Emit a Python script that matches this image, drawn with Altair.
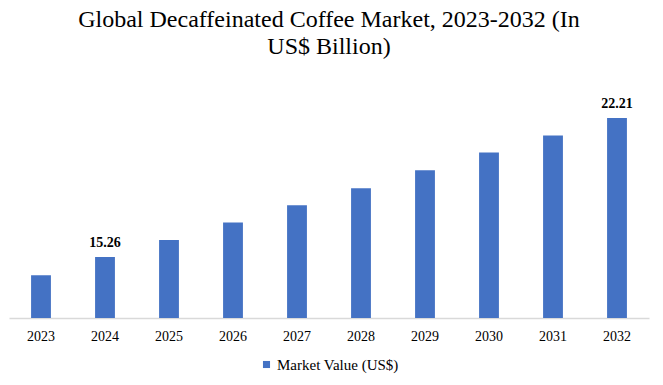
import altair as alt
import pandas as pd

years = ["2023", "2024", "2025", "2026", "2027", "2028", "2029", "2030", "2031", "2032"]
values = [14.35, 15.26, 16.11, 16.98, 17.85, 18.70, 19.60, 20.48, 21.33, 22.21]
shown_labels = ["", "15.26", "", "", "", "", "", "", "", "22.21"]
series_name = "Market Value (US$)"

df = pd.DataFrame({"year": years, "value": values, "label": shown_labels,
                   "series": [series_name] * len(years)})

FONT = "Liberation Serif"

x = alt.X("year:N", sort=years, title=None,
          scale=alt.Scale(paddingInner=0.69, paddingOuter=0.345),
          axis=alt.Axis(labelAngle=0, labelFont=FONT, labelFontSize=14, labelColor="#000000",
                        ticks=False, domainColor="#d9d9d9", domainWidth=1.5, labelPadding=11,
                        grid=False))
y = alt.Y("value:Q", title=None,
          scale=alt.Scale(domain=[12.21, 23.11], zero=False, nice=False),
          axis=None)

bars = alt.Chart(df).mark_bar(clip=True).encode(
    x=x, y=y,
    color=alt.Color("series:N", scale=alt.Scale(range=["#4472C4"]),
                    legend=alt.Legend(title=None, orient="none", legendX=250, legendY=257,
                                      symbolType="square", symbolSize=50, labelOffset=3,
                                      labelFont=FONT, labelFontSize=15, labelColor="#000000",
                                      padding=0, symbolStrokeWidth=0))
)

text = alt.Chart(df).transform_filter(alt.datum.label != "").mark_text(
    font=FONT, fontSize=14, fontWeight="bold", baseline="bottom", dy=-7, color="#000000"
).encode(x=alt.X("year:N", sort=years), y=alt.Y("value:Q"), text="label:N")

chart = (bars + text).properties(
    width=640, height=218,
    title=alt.TitleParams(["Global  Decaffeinated Coffee Market, 2023-2032 (In", "US$ Billion)"],
                          font=FONT, fontSize=24, fontWeight="normal", color="#000000",
                          anchor="middle", offset=38, lineHeight=27),
    autosize=alt.AutoSizeParams(type="none"),
    padding={"left": 1, "top": 92, "right": 6, "bottom": 59},
).configure_view(stroke=None)

chart.save("out.html", embed_options={"renderer": "svg", "actions": False})
